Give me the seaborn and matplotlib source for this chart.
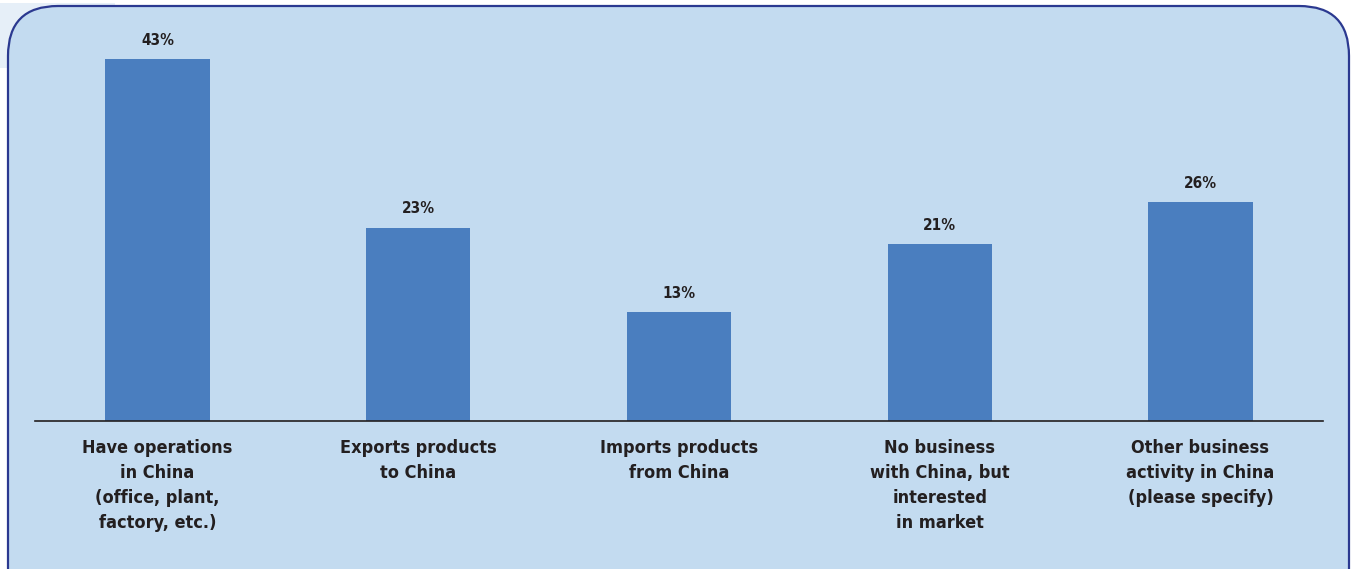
import matplotlib
matplotlib.use("Agg")
import matplotlib.pyplot as plt
from matplotlib.patches import FancyBboxPatch, Rectangle
import seaborn as sns
import pandas as pd

categories = [
    "Have operations\nin China\n(office, plant,\nfactory, etc.)",
    "Exports products\nto China",
    "Imports products\nfrom China",
    "No business\nwith China, but\ninterested\nin market",
    "Other business\nactivity in China\n(please specify)",
]
values = [43, 23, 13, 21, 26]
value_labels = ["43%", "23%", "13%", "21%", "26%"]

sns.set_theme(style="white")
plt.rcParams["font.family"] = ["DejaVu Sans"]
plt.rcParams["font.stretch"] = "condensed"

W, H = 1352, 569
fig = plt.figure(figsize=(W / 100, H / 100), dpi=100)
fig.patch.set_facecolor("white")

# faint decorative tab behind the panel corner
fig.patches.append(Rectangle((0, 1 - 68 / H), 115 / W, 65 / H,
                             transform=fig.transFigure, facecolor="#e6eff8",
                             edgecolor="none", zorder=0))

# rounded panel
panel = FancyBboxPatch((8, -60), 1341, 569 + 60 - 6,
                       boxstyle="round,pad=0,rounding_size=50",
                       transform=None, facecolor="#c3dbf0",
                       edgecolor="#2b3990", linewidth=1.6, zorder=1)
fig.patches.append(panel)

ax = fig.add_axes([35 / W, (H - 421) / H, (1323 - 35) / W, 391 / H])
ax.set_facecolor("none")
ax.set_zorder(2)

df = pd.DataFrame({"category": categories, "value": values})
sns.barplot(data=df, x="category", y="value", color="#4a7ebf",
            saturation=1, width=0.40, linewidth=0, ax=ax)

ax.set_xlim(-0.47, len(categories) - 1 + 0.47)
ax.set_ylim(0, 46.5)

for i, (v, lab) in enumerate(zip(values, value_labels)):
    ax.annotate(lab, (i, v), xytext=(0, 8), textcoords="offset points",
                ha="center", va="bottom", fontsize=11, fontweight="bold",
                fontstretch="condensed", color="#231f20")

ax.set_xlabel("")
ax.set_ylabel("")
ax.set_yticks([])
ax.tick_params(axis="x", length=0, pad=13)
for t in ax.get_xticklabels():
    t.set_fontsize(13)
    t.set_fontweight("bold")
    t.set_fontstretch("condensed")
    t.set_color("#231f20")
    t.set_linespacing(1.5)
    t.set_verticalalignment("top")

for s in ["top", "left", "right"]:
    ax.spines[s].set_visible(False)
ax.spines["bottom"].set_color("#231f20")
ax.spines["bottom"].set_linewidth(1.2)

fig.savefig("out.png", dpi=100, facecolor=fig.get_facecolor())
